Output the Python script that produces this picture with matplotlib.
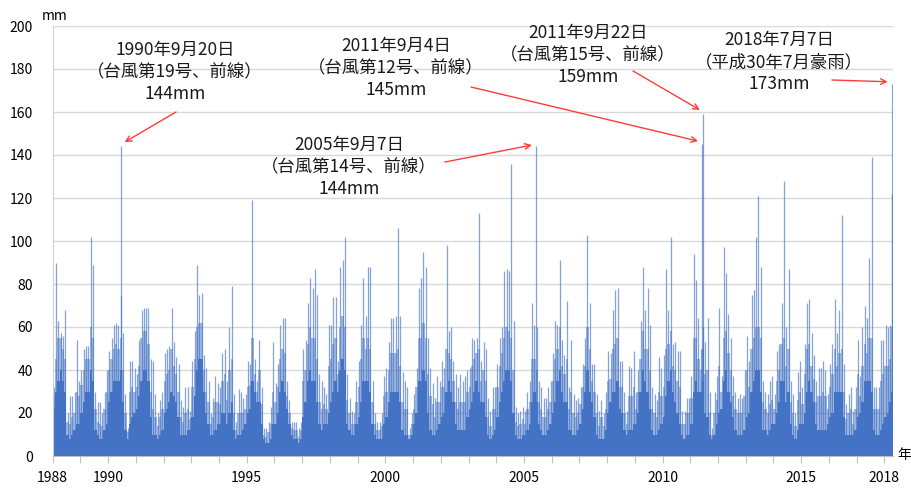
import numpy as np
import matplotlib
matplotlib.use('Agg')
import matplotlib.pyplot as plt

plt.rcParams['font.family'] = ['Noto Sans CJK JP', 'DejaVu Sans']

# daily rainfall, summarised per month (Apr 1988 - Jul 2018)
# peak  = highest day in the month
# upper = top of the bulk of the thinner spikes
# level = height of the solid mass of days
start_year, start_month = 1988, 4
monthly_peak = [
    32, 90, 63, 57, 56, 68, 20, 28, 28,                  # 1988 (Apr-)
    30, 54, 35, 40, 50, 51, 51, 102, 89, 30, 25, 25,     # 1989
    20, 30, 40, 49, 55, 61, 62, 61, 75, 57, 29, 13,      # 1990
    44, 44, 41, 38, 54, 68, 69, 69, 69, 45, 44, 29,      # 1991
    20, 26, 30, 48, 50, 51, 69, 53, 46, 43, 26, 23,      # 1992
    32, 32, 21, 44, 58, 89, 75, 76, 47, 41, 35, 20,      # 1993
    27, 37, 34, 32, 48, 50, 35, 60, 79, 29, 16, 31,      # 1994
    30, 27, 29, 44, 43, 119, 45, 35, 54, 32, 13, 13,     # 1995
    16, 23, 53, 34, 43, 61, 64, 64, 35, 26, 16, 16,      # 1996
    16, 13, 16, 50, 54, 71, 83, 78, 87, 75, 38, 35,      # 1997
    32, 29, 61, 61, 74, 74, 44, 88, 91, 102, 38, 27,     # 1998
    21, 20, 35, 44, 61, 83, 65, 88, 88, 35, 20, 16,      # 1999
    16, 20, 37, 41, 53, 64, 64, 65, 106, 65, 39, 35,     # 2000
    32, 13, 20, 29, 41, 78, 83, 95, 88, 55, 41, 34,      # 2001
    27, 37, 35, 44, 41, 98, 58, 60, 44, 38, 32, 38,      # 2002
    35, 37, 40, 41, 55, 54, 55, 113, 44, 53, 50, 27,     # 2003
    21, 32, 32, 43, 55, 60, 86, 87, 86, 136, 63, 23,     # 2004
    20, 21, 23, 21, 30, 35, 71, 61, 60, 35, 32, 27,      # 2005
    27, 32, 35, 48, 63, 61, 91, 54, 47, 72, 32, 54,      # 2006
    29, 26, 27, 32, 43, 55, 103, 71, 43, 43, 29, 21,     # 2007
    26, 20, 30, 49, 48, 68, 77, 78, 44, 44, 30, 21,      # 2008
    42, 41, 49, 30, 40, 63, 88, 68, 78, 61, 32, 29,      # 2009
    26, 46, 41, 47, 87, 68, 102, 52, 53, 49, 49, 21,     # 2010
    21, 27, 27, 37, 94, 82, 64, 50, 60, 53, 64, 30,      # 2011
    13, 30, 37, 69, 37, 97, 85, 66, 55, 37, 30, 27,      # 2012
    29, 27, 40, 56, 44, 75, 77, 102, 121, 88, 35, 30,    # 2013
    29, 35, 37, 29, 49, 52, 71, 128, 60, 87, 35, 29,     # 2014
    20, 39, 44, 32, 52, 71, 73, 57, 47, 35, 41, 41,      # 2015
    44, 40, 29, 43, 52, 73, 57, 68, 112, 43, 24, 29,     # 2016
    32, 21, 32, 54, 37, 60, 70, 64, 92, 139, 32, 32,     # 2017
    32, 54, 54, 61, 60, 61, 122,                         # 2018 (-Jul)
]
monthly_upper = [
    28, 45, 55, 55, 50, 45, 16, 15, 18,
    20, 30, 28, 33, 40, 45, 45, 60, 55, 22, 16, 15,
    14, 22, 30, 40, 45, 50, 52, 50, 55, 40, 20, 11,
    30, 32, 30, 32, 42, 55, 58, 58, 52, 30, 22, 18,
    14, 18, 22, 35, 38, 40, 50, 42, 38, 30, 18, 16,
    20, 22, 17, 32, 45, 60, 62, 62, 40, 30, 25, 15,
    18, 25, 25, 24, 35, 38, 26, 40, 45, 20, 12, 20,
    20, 20, 22, 32, 33, 55, 38, 30, 40, 24, 10, 9,
    11, 15, 30, 25, 32, 45, 50, 48, 28, 20, 13, 12,
    12, 9, 12, 35, 40, 52, 60, 55, 55, 45, 25, 22,
    24, 22, 42, 45, 52, 55, 38, 60, 65, 60, 26, 20,
    15, 15, 25, 32, 45, 55, 50, 55, 50, 25, 15, 12,
    12, 14, 28, 30, 40, 48, 48, 48, 50, 42, 25, 22,
    22, 10, 15, 22, 32, 55, 55, 62, 55, 38, 28, 24,
    18, 25, 25, 32, 32, 50, 48, 45, 35, 25, 22, 25,
    25, 25, 30, 32, 42, 45, 48, 50, 35, 40, 35, 18,
    14, 22, 22, 32, 42, 48, 55, 60, 58, 55, 40, 16,
    14, 15, 17, 15, 22, 25, 45, 45, 40, 25, 22, 18,
    18, 22, 25, 35, 45, 50, 60, 42, 38, 45, 22, 30,
    20, 18, 20, 24, 32, 42, 60, 50, 35, 30, 20, 14,
    18, 14, 22, 35, 36, 50, 52, 55, 32, 32, 20, 15,
    28, 28, 32, 22, 30, 45, 58, 50, 50, 40, 22, 20,
    18, 30, 28, 32, 50, 52, 58, 42, 40, 35, 32, 15,
    15, 20, 20, 27, 55, 55, 45, 40, 50, 38, 40, 20,
    10, 20, 26, 42, 30, 55, 58, 48, 40, 28, 22, 20,
    20, 20, 28, 40, 32, 50, 55, 60, 60, 55, 25, 22,
    20, 24, 26, 22, 35, 40, 52, 55, 42, 50, 25, 20,
    14, 26, 30, 24, 38, 50, 52, 42, 36, 25, 28, 28,
    30, 28, 22, 32, 38, 50, 42, 48, 50, 30, 17, 20,
    22, 15, 22, 38, 28, 42, 52, 48, 55, 55, 22, 22,
    22, 35, 38, 42, 42, 45, 60,
]
monthly_level = [
    22, 30, 35, 40, 35, 30, 10, 8, 10,
    12, 15, 15, 20, 25, 30, 30, 40, 35, 12, 10, 8,
    8, 12, 15, 25, 30, 35, 35, 35, 40, 25, 12, 8,
    15, 18, 20, 22, 28, 35, 40, 40, 35, 18, 10, 10,
    8, 10, 12, 20, 22, 25, 30, 28, 25, 18, 10, 10,
    10, 12, 12, 18, 28, 40, 45, 45, 30, 20, 15, 10,
    10, 12, 15, 15, 20, 20, 15, 20, 25, 12, 8, 10,
    10, 12, 15, 20, 22, 35, 30, 25, 25, 15, 8, 6,
    6, 8, 15, 15, 20, 30, 35, 30, 22, 15, 10, 8,
    8, 6, 8, 18, 25, 35, 40, 35, 35, 25, 15, 12,
    15, 15, 20, 25, 30, 35, 30, 40, 45, 40, 15, 12,
    10, 10, 15, 18, 25, 35, 35, 35, 30, 15, 10, 8,
    8, 8, 15, 18, 25, 30, 30, 30, 30, 25, 12, 10,
    10, 8, 10, 15, 20, 35, 35, 40, 35, 20, 12, 10,
    10, 12, 15, 18, 20, 30, 35, 30, 25, 15, 12, 12,
    12, 12, 18, 22, 25, 30, 35, 30, 25, 25, 18, 10,
    8, 10, 12, 18, 25, 30, 35, 40, 40, 35, 20, 10,
    8, 8, 10, 10, 12, 15, 25, 30, 25, 15, 12, 10,
    10, 12, 15, 20, 25, 35, 40, 30, 25, 25, 12, 12,
    10, 10, 12, 15, 22, 30, 40, 30, 25, 18, 10, 8,
    8, 8, 12, 20, 25, 30, 30, 35, 22, 20, 12, 10,
    12, 12, 15, 15, 20, 30, 40, 35, 30, 22, 12, 10,
    10, 12, 15, 18, 28, 35, 40, 30, 25, 20, 15, 10,
    8, 10, 10, 15, 30, 35, 30, 30, 35, 20, 18, 10,
    8, 10, 15, 20, 22, 35, 40, 30, 25, 18, 12, 10,
    10, 10, 12, 18, 20, 30, 35, 40, 40, 30, 12, 12,
    10, 12, 15, 15, 20, 25, 35, 35, 25, 30, 15, 10,
    8, 12, 15, 15, 20, 30, 35, 30, 25, 15, 12, 12,
    12, 12, 15, 18, 20, 30, 30, 30, 30, 18, 10, 10,
    10, 10, 12, 18, 20, 25, 35, 35, 35, 30, 12, 10,
    10, 12, 15, 18, 20, 25, 30,
]

# annotated heavy-rain days
event_dates = [(1990, 9, 20), (2005, 9, 7), (2011, 9, 4), (2011, 9, 22), (2018, 7, 7)]
event_values = [144, 144, 145, 159, 173]
event_labels = [
    '1990年9月20日\n（台風第19号、前線）\n144mm',
    '2005年9月7日\n（台風第14号、前線）\n144mm',
    '2011年9月4日\n（台風第12号、前線）\n145mm',
    '2011年9月22日\n（台風第15号、前線）\n159mm',
    '2018年7月7日\n（平成30年7月豪雨）\n173mm',
]
label_pos = [(175, 72), (349, 167), (396, 68), (588, 55), (779, 62)]   # px
arrow_tail = [(176, 112), (445, 162), (471, 87), (633, 71), (832, 80)]  # px

year_ticks = ['1988', '1990', '1995', '2000', '2005', '2010', '2015', '2018']
year_tick_idx = [0, 2, 7, 12, 17, 22, 27, 30]

blue = '#4472C4'
W, H = 912, 488

t0 = start_year + (start_month - 1) / 12
n = len(monthly_peak)
xm = t0 + (np.arange(n) + 0.5) / 12
ex = [y + (m - 1) / 12 + (d - 1) / 365 for y, m, d in event_dates]

fig = plt.figure(figsize=(W / 100, H / 100), dpi=100)
ax = fig.add_axes([52.6 / W, 1 - 456 / H, (893 - 52.6) / W, (456 - 26) / H])

ax.bar(xm, monthly_upper, width=1 / 12, color=blue, alpha=0.5, linewidth=0, zorder=2)
ax.bar(xm, monthly_level, width=1 / 12, color=blue, linewidth=0, zorder=2)
ax.vlines(xm, 0, monthly_peak, color=blue, lw=0.9, alpha=0.65, zorder=2)
ax.vlines(ex, 0, event_values, color=blue, lw=0.9, alpha=0.65, zorder=2)

ax.set_xlim(t0, 2018.56)
ax.set_ylim(0, 200)
ax.set_yticks(np.arange(0, 201, 20))
ax.grid(axis='y', color='#D9D9D9', lw=1)
ax.set_axisbelow(True)

ticks = t0 + np.arange(31)
ax.set_xticks(ticks)
labels = [''] * 31
for i, lab in zip(year_tick_idx, year_ticks):
    labels[i] = lab
ax.set_xticklabels(labels, fontsize=10)
ax.tick_params(axis='x', length=5, color='#BFBFBF', pad=6)
ax.tick_params(axis='y', length=0, pad=14, labelsize=10)
for s in ['top', 'right']:
    ax.spines[s].set_visible(False)
ax.spines['left'].set_color('#D0D0D0')
ax.spines['bottom'].set_color('#BFBFBF')

fig.text(42 / W, 1 - 16 / H, 'mm', fontsize=10, va='center', ha='left')
fig.text(897 / W, 1 - 455 / H, '年', fontsize=10, va='center', ha='left')

for lab, (lx, ly), (tx, ty), x, v in zip(event_labels, label_pos, arrow_tail, ex, event_values):
    fig.text(lx / W, 1 - ly / H, lab, ha='center', va='center', fontsize=12.5,
             linespacing=1.3, color='#1a1a1a')
    ax.annotate('', xy=(x, v + 1), xycoords='data',
                xytext=(tx / W, 1 - ty / H), textcoords='figure fraction',
                arrowprops=dict(arrowstyle='->', color='#FF3B3B', lw=1,
                                shrinkA=0, shrinkB=3))

fig.savefig('out.png', dpi=100)
